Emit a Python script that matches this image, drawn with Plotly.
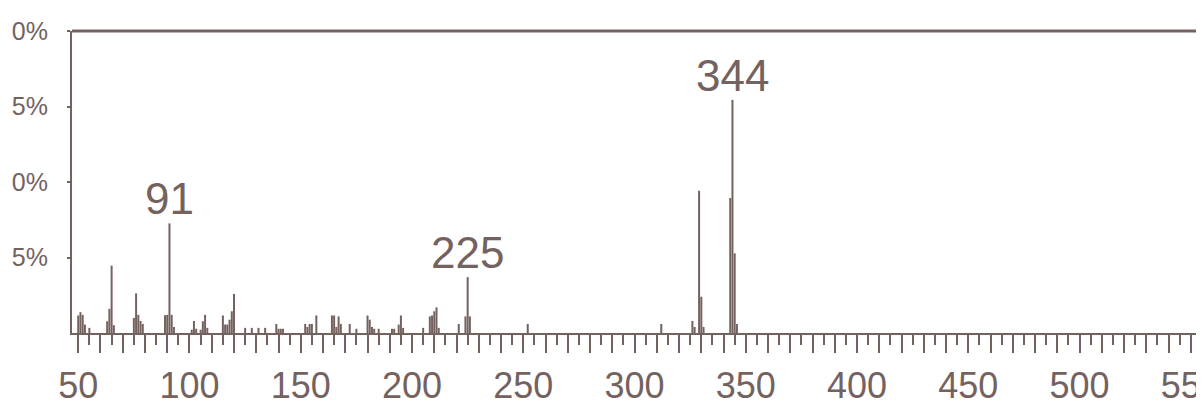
import plotly.graph_objects as go

# ---- data ----
mz = [50, 51, 52, 53, 55,
      63, 64, 65, 66,
      75, 76, 77, 78, 79,
      89, 90, 91, 92, 93,
      101, 102, 103, 105, 106, 107, 108,
      115, 116, 117, 118, 119, 120,
      125, 128, 131, 134,
      139, 140, 141, 142,
      152, 153, 154, 155, 157,
      164, 165, 166, 167, 168, 172, 175,
      180, 181, 182, 183, 185,
      191, 192, 194, 195, 196,
      205, 208, 209, 210, 211, 212,
      221, 224, 225, 226,
      252, 312,
      326, 327, 329, 330, 331,
      343, 344, 345, 346]
intensity = [5.8, 6.9, 6.0, 2.8, 1.7,
             3.9, 8.0, 22.3, 2.6,
             5.0, 13.1, 6.0, 4.0, 3.0,
             5.9, 6.0, 36.3, 6.0, 2.0,
             1.1, 4.0, 1.4, 1.1, 3.9, 6.0, 1.7,
             5.8, 2.8, 2.8, 4.4, 7.2, 12.9,
             1.7, 1.7, 1.7, 1.7,
             3.0, 1.4, 1.4, 1.4,
             3.0, 2.0, 3.0, 3.0, 5.8,
             5.8, 5.8, 2.0, 5.5, 3.0, 3.0, 1.4,
             5.8, 4.4, 2.0, 1.4, 1.4,
             1.4, 1.4, 2.8, 5.8, 1.7,
             1.7, 5.5, 5.8, 7.2, 8.5, 1.7,
             3.0, 5.5, 18.5, 5.5,
             3.0, 3.0,
             4.0, 2.0, 47.1, 12.0, 2.0,
             44.7, 77.2, 26.4, 3.0]

label_mz = [91, 225, 344]

x_tick_vals = list(range(50, 560, 10))
x_tick_labels = [str(v) if v % 50 == 0 else "" for v in x_tick_vals]
y_tick_vals = [25, 50, 75, 100]
y_tick_labels = ["5%", "0%", "5%", "0%"]

# ---- style ----
INK = "#74625f"
FONT = "Liberation Sans Narrow, Liberation Sans, Arial, sans-serif"

fig = go.Figure()
fig.add_trace(go.Bar(x=mz, y=intensity, width=0.9,
                     marker=dict(color=INK, line=dict(width=0)),
                     hoverinfo="x+y"))

label_int = [intensity[mz.index(m)] for m in label_mz]
for m, v in zip(label_mz, label_int):
    fig.add_annotation(x=m, y=v, xref="x", yref="y", text=str(m),
                       showarrow=False, yanchor="bottom", yshift=-2,
                       font=dict(family=FONT, size=44, color=INK))

# top frame line
fig.add_shape(type="line", xref="paper", yref="paper", x0=0, x1=1, y0=1, y1=1,
              line=dict(color=INK, width=3))

# page has an 8px body margin, so the figure is sized/offset to compensate
fig.update_layout(
    width=1196, height=399,
    margin=dict(l=64, r=0, t=23, b=74),
    paper_bgcolor="white", plot_bgcolor="white",
    showlegend=False,
    font=dict(family=FONT, color=INK),
)
fig.update_xaxes(
    range=[47.2, 555.9], showgrid=False, zeroline=False, automargin=False,
    showline=True, linecolor=INK, linewidth=2,
    tickmode="array", tickvals=x_tick_vals, ticktext=x_tick_labels,
    ticks="outside", ticklen=18, tickwidth=2, tickcolor=INK,
    minor=dict(tickmode="linear", tick0=50, dtick=5, ticks="outside",
               ticklen=10, tickwidth=2, tickcolor=INK),
    tickfont=dict(family=FONT, size=36, color=INK),
    ticklabelstandoff=2, ticklabeloverflow="allow",
)
fig.update_yaxes(
    range=[0, 100], showgrid=False, zeroline=False, automargin=False,
    showline=True, linecolor=INK, linewidth=2,
    tickmode="array", tickvals=y_tick_vals, ticktext=y_tick_labels,
    ticks="outside", ticklen=3, tickwidth=2, tickcolor=INK,
    tickfont=dict(family=FONT, size=25, color=INK),
    ticklabelstandoff=14, ticklabeloverflow="allow",
)

fig.write_html("out.html")
